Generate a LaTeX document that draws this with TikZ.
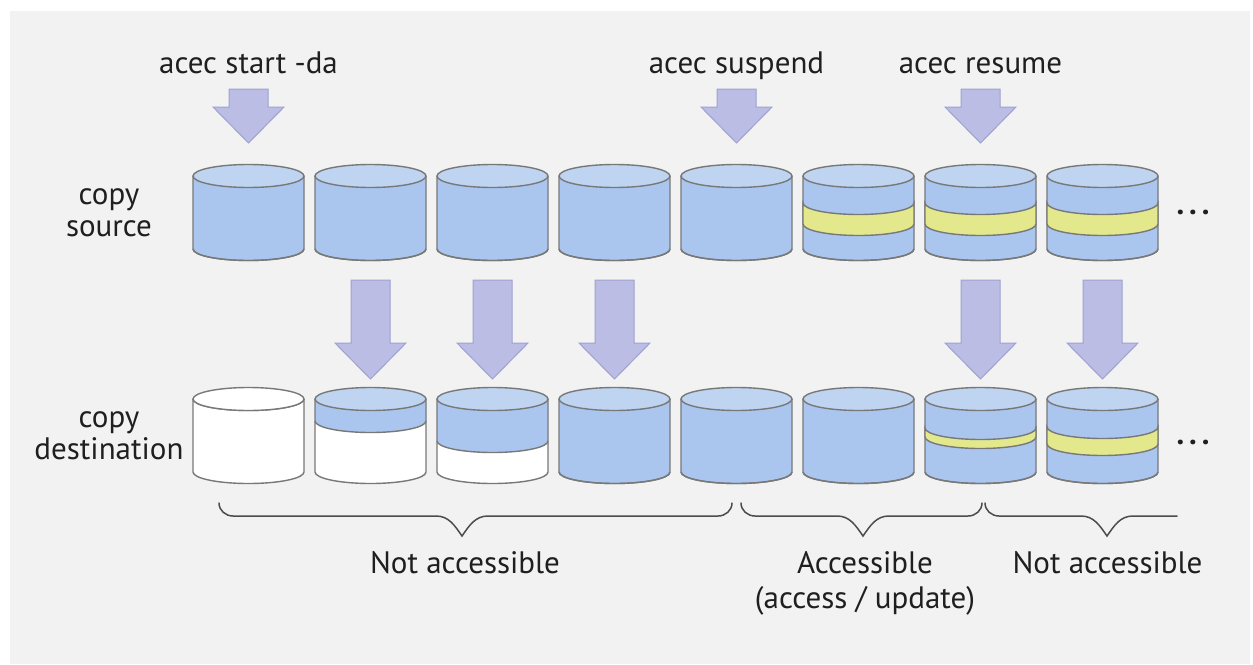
\documentclass[tikz,border=0pt]{standalone}
\usepackage{fontspec}
\setmainfont{PT Sans}
\usetikzlibrary{calc,positioning}

\definecolor{panel}{RGB}{242,242,242}
\definecolor{diskside}{RGB}{170,198,238}
\definecolor{disktop}{RGB}{190,212,241}
\definecolor{diskline}{RGB}{120,120,120}
\definecolor{bandfill}{RGB}{227,232,141}
\definecolor{pushfill}{RGB}{188,189,228}
\definecolor{pushline}{RGB}{158,160,210}

\newcommand{\diskrx}{27.75pt}
\newcommand{\diskry}{5.75pt}

\tikzset{
  txt/.style={font=\fontsize{15.5}{16}\selectfont, text=black!88, inner sep=0pt},
  outline/.style={draw=diskline, line width=0.7pt},
  diskarc/.style={x radius=\diskrx, y radius=\diskry},
  pusharrow/.style={fill=pushfill, draw=pushline, line width=0.5pt},
  curly/.style={draw=black!70, line width=0.75pt, line cap=round},
}

% a disk: name, centre of its top face, filled depth, colour of the top face
\newcommand{\disk}[4]{%
  \begin{scope}[shift={(#2)}]
    \coordinate (#1) at (0,0);
    \fill[white] (-55.5,0) -- (-55.5,73) arc[diskarc, start angle=180, end angle=360] -- (55.5,0) -- cycle;
    \fill[diskside] (-55.5,0) -- (-55.5,#3) arc[diskarc, start angle=180, end angle=360] -- (55.5,0) -- cycle;
    \draw[outline] (-55.5,#3) arc[diskarc, start angle=180, end angle=360];
    \draw[outline] (-55.5,0) -- (-55.5,73) arc[diskarc, start angle=180, end angle=360] -- (55.5,0);
    \filldraw[outline, fill=#4] (0,0) ellipse[diskarc];
  \end{scope}}

% a yellow band round a disk
\newcommand{\band}[3]{%
  \filldraw[outline, fill=bandfill, shift={(#1)}] (-55.5,#2) arc[diskarc, start angle=180, end angle=360]
    -- (55.5,#3) arc[diskarc, start angle=0, end angle=-180] -- cycle;}

% a block arrow: tip, length
\newcommand{\push}[2]{%
  \filldraw[pusharrow] (#1) -- ++(-35.5,-36) -- ++(16,0) -- ++(0,{36-#2}) -- ++(39,0)
    -- ++(0,{#2-36}) -- ++(16,0) -- cycle;}

\begin{document}
\begin{tikzpicture}[x=0.5pt, y=-0.5pt]
  \useasboundingbox (0,0) rectangle (1253,664);
  \fill[panel] (10,11) rectangle (1250,664);

  % copy source
  \foreach \i in {1,...,8}
    \disk{s\i}{126.5+122*\i,176}{73}{disktop};
  \foreach \i in {6,7,8}
    \band{s\i}{27}{48};

  % copy destination
  \foreach \i/\lvl/\face in {1/0/white,2/22/disktop,3/42/disktop,4/73/disktop,
                             5/73/disktop,6/73/disktop,7/73/disktop,8/73/disktop}
    \disk{d\i}{126.5+122*\i,399}{\lvl}{\face};
  \band{d7}{29}{38};
  \band{d8}{28}{45};

  % commands
  \node[txt, anchor=base] (start) at ($(s1)+(0,-103)$) {acec start -da};
  \node[txt, anchor=base] (suspend) at ($(s5)+(0,-103)$) {acec suspend};
  \node[txt, anchor=base] (resume) at ($(s7)+(0,-103)$) {acec resume};
  \foreach \i in {1,5,7}
    \push{$(s\i)+(0,-33)$}{54};
  \foreach \i in {2,3,4,7,8}
    \push{$(d\i)+(0,-20)$}{99};

  \node[txt, align=center] (src) at (109,213) {copy\\source};
  \node[txt, align=center] (dst) at (109,436) {copy\\destination};
  \node[txt] (more1) at (1193,212) {\textbf{.\kern2.5pt.\kern2.5pt.}};
  \node[txt] (more2) at (1193,442) {\textbf{.\kern2.5pt.\kern2.5pt.}};

  % braces
  \draw[curly] (219,503) to[out=-90,in=180] (233,516) -- (436,516) to[out=0,in=125] (462,536)
    to[out=55,in=180] (488,516) -- (718,516) to[out=0,in=-90] (732,503);
  \draw[curly] (741,503) to[out=-90,in=180] (755,516) -- (837,516) to[out=0,in=125] (863,536)
    to[out=55,in=180] (889,516) -- (968,516) to[out=0,in=-90] (982,503);
  \draw[curly] (985,503) to[out=-90,in=180] (999,516) -- (1081,516) to[out=0,in=125] (1107,536)
    to[out=55,in=180] (1133,516) -- (1177,516);

  \node[txt, anchor=base] (shut1) at (465,573) {Not accessible};
  \node[txt, anchor=base, align=center, font=\fontsize{15.5}{17.5}\selectfont] (open) at (865,608)
    {Accessible\\(access / update)};
  \node[txt, anchor=base] (shut2) at (1107.5,573) {Not accessible};
\end{tikzpicture}
\end{document}
